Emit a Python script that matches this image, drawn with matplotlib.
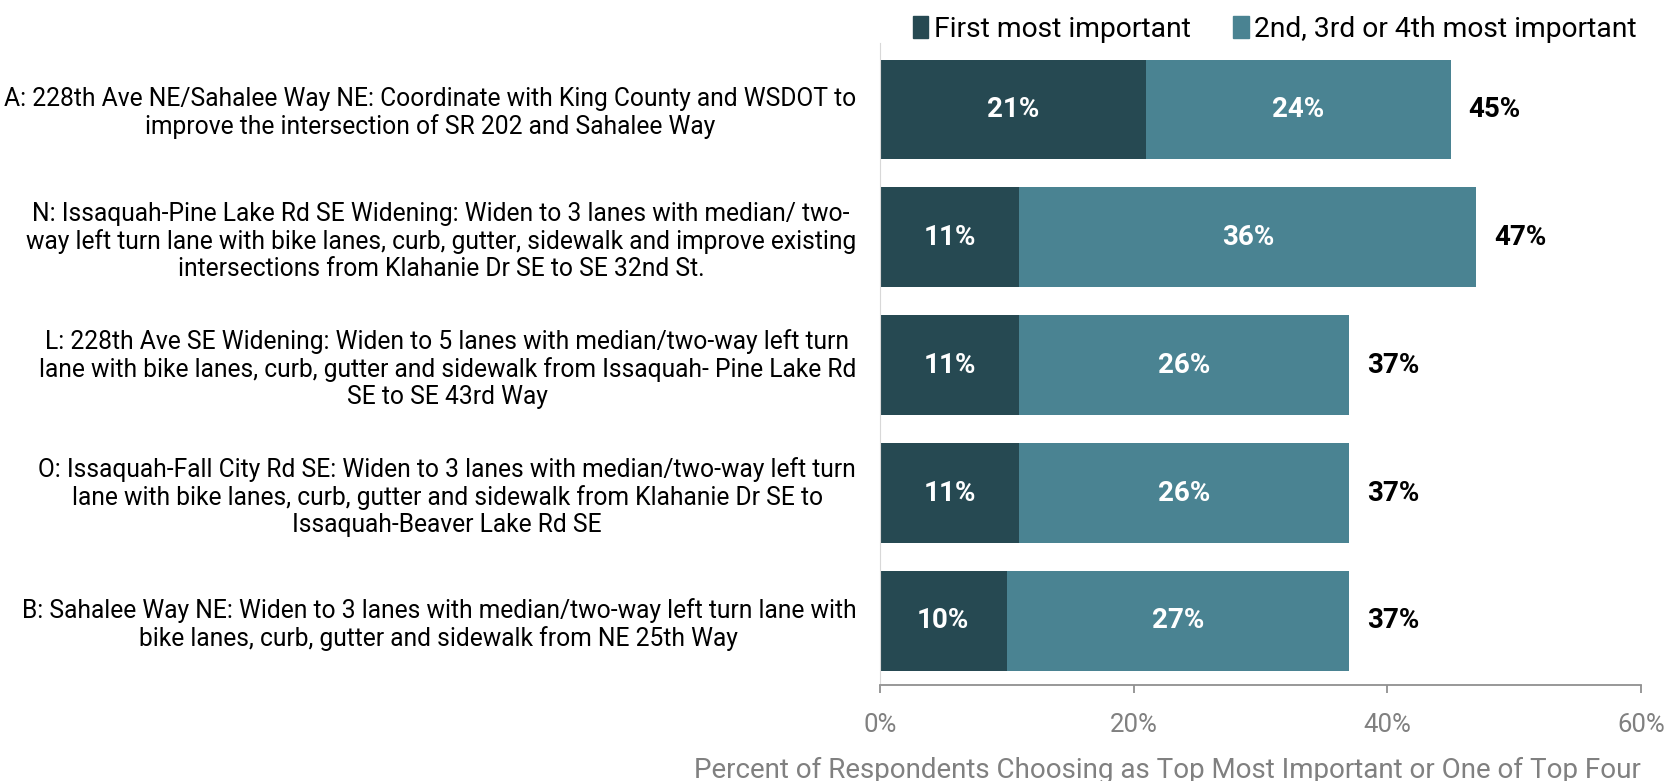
import numpy as np
import matplotlib.pyplot as plt
from matplotlib.patches import Patch

plt.rcParams['font.family'] = ['Roboto', 'DejaVu Sans']

projects = [
    "A: 228th Ave NE/Sahalee Way NE: Coordinate with King County and WSDOT to\nimprove the intersection of SR 202 and Sahalee Way",
    "N: Issaquah-Pine Lake Rd SE Widening: Widen to 3 lanes with median/ two-\nway left turn lane with bike lanes, curb, gutter, sidewalk and improve existing\nintersections from Klahanie Dr SE to SE 32nd St.",
    "L: 228th Ave SE Widening: Widen to 5 lanes with median/two-way left turn\nlane with bike lanes, curb, gutter and sidewalk from Issaquah- Pine Lake Rd\nSE to SE 43rd Way",
    "O: Issaquah-Fall City Rd SE: Widen to 3 lanes with median/two-way left turn\nlane with bike lanes, curb, gutter and sidewalk from Klahanie Dr SE to\nIssaquah-Beaver Lake Rd SE",
    "B: Sahalee Way NE: Widen to 3 lanes with median/two-way left turn lane with\nbike lanes, curb, gutter and sidewalk from NE 25th Way",
]
first = [21, 11, 11, 11, 10]
top_four = [24, 36, 26, 26, 27]
totals = [45, 47, 37, 37, 37]

dark = '#264952'
light = '#4a8392'

fig = plt.figure(figsize=(16.79, 7.81), dpi=100)
ax = fig.add_axes([0.524, 0.123, 0.4535, 0.822])

y = np.arange(len(projects))
h = 0.78
ax.barh(y, first, height=h, color=dark)
ax.barh(y, top_four, left=first, height=h, color=light)

for i in range(len(projects)):
    ax.text(first[i] / 2, i, f"{first[i]}%", ha='center', va='center',
            color='white', fontsize=20, fontweight='bold')
    ax.text(first[i] + top_four[i] / 2, i, f"{top_four[i]}%", ha='center',
            va='center', color='white', fontsize=20, fontweight='bold')
    ax.text(totals[i] + 1.4, i, f"{totals[i]}%", ha='left', va='center',
            color='black', fontsize=20, fontweight='bold')

ax.set_xlim(0, 60)
ax.set_ylim(4.5, -0.52)
ax.set_xticks([0, 20, 40, 60])
ax.set_xticklabels(['0%', '20%', '40%', '60%'])
ax.set_yticks(y)
ax.set_yticklabels(projects, fontsize=17.7, multialignment='center',
                   linespacing=1.15)
ax.tick_params(axis='y', length=0, pad=17)
ax.tick_params(axis='x', length=6, width=1.3, color='#909090',
               labelcolor='#808080', labelsize=18.5, pad=14)

for s in ['top', 'right']:
    ax.spines[s].set_visible(False)
ax.spines['left'].set_color('#d8d8d8')
ax.spines['bottom'].set_color('#909090')
ax.spines['bottom'].set_linewidth(1.3)

ax.set_xlabel('Percent of Respondents Choosing as Top Most Important or One of Top Four',
              fontsize=20, color='#808080', labelpad=14.5, loc='right')

handles = [Patch(color=dark, label='First most important'),
           Patch(color=light, label='2nd, 3rd or 4th most important')]
fig.legend(handles=handles, loc='upper right', bbox_to_anchor=(0.99, 1.012),
           ncol=2, frameon=False, fontsize=20.3, handlelength=0.55,
           handleheight=0.8, handletextpad=0.2, columnspacing=1.5)

fig.savefig('out.png', dpi=100)
